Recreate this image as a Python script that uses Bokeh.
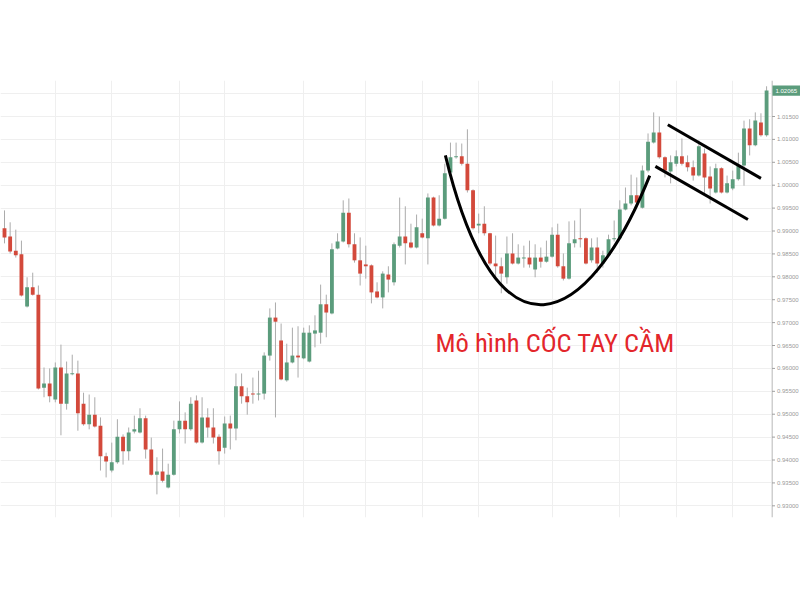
import numpy as np
from bokeh.plotting import figure
from bokeh.layouts import row
from bokeh.models import Range1d, FixedTicker, Label, ColumnDataSource
from bokeh.core.properties import value
from bokeh.embed import file_html
from bokeh.resources import INLINE

# ---- OHLC data (one candle per session) ----
opens = [0.9906, 0.9888, 0.9857, 0.9849, 0.9735, 0.9777, 0.9761, 0.9558, 0.9567, 0.9532,
         0.9602, 0.9523, 0.9587, 0.9589, 0.9523, 0.9478, 0.9499, 0.9475, 0.9408, 0.9377,
         0.9395, 0.9451, 0.9419, 0.9462, 0.9460, 0.9491, 0.9423, 0.9368, 0.9375, 0.9340,
         0.9368, 0.9467, 0.9486, 0.9467, 0.9530, 0.9438, 0.9493, 0.9471, 0.9451, 0.9427,
         0.9480, 0.9469, 0.9561, 0.9539, 0.9545, 0.9543, 0.9545, 0.9628, 0.9711, 0.9661,
         0.9574, 0.9613, 0.9628, 0.9622, 0.9615, 0.9676, 0.9678, 0.9740, 0.9720, 0.9862,
         0.9877, 0.9940, 0.9871, 0.9836, 0.9827, 0.9825, 0.9768, 0.9755, 0.9805, 0.9788,
         0.9868, 0.9888, 0.9875, 0.9864, 0.9895, 0.9884, 0.9973, 0.9912, 0.9927, 1.0028,
         1.0061, 1.0063, 1.0047, 0.9989, 0.9912, 0.9916, 0.9895, 0.9829, 0.9823, 0.9799,
         0.9851, 0.9829, 0.9840, 0.9842, 0.9816, 0.9842, 0.9833, 0.9844, 0.9892, 0.9823,
         0.9796, 0.9873, 0.9884, 0.9884, 0.9836, 0.9864, 0.9829, 0.9847, 0.9882, 0.9884,
         0.9947, 0.9960, 0.9978, 0.9951, 1.0032, 1.0093, 1.0115, 1.0061, 1.0030, 1.0047,
         1.0063, 1.0050, 1.0039, 1.0021, 1.0069, 1.0019, 0.9984, 1.0037, 0.9984, 0.9993,
         1.0013, 1.0043, 1.0124, 1.0087, 1.0137, 1.0109]
highs = [0.9945, 0.9919, 0.9903, 0.9879, 0.9799, 0.9809, 0.9781, 0.9602, 0.9600, 0.9613,
         0.9652, 0.9615, 0.9630, 0.9617, 0.9547, 0.9543, 0.9537, 0.9493, 0.9416, 0.9438,
         0.9489, 0.9456, 0.9471, 0.9497, 0.9513, 0.9497, 0.9449, 0.9406, 0.9425, 0.9392,
         0.9486, 0.9528, 0.9504, 0.9537, 0.9541, 0.9537, 0.9513, 0.9513, 0.9456, 0.9495,
         0.9497, 0.9589, 0.9589, 0.9558, 0.9580, 0.9595, 0.9635, 0.9731, 0.9744, 0.9698,
         0.9654, 0.9689, 0.9692, 0.9689, 0.9694, 0.9716, 0.9783, 0.9761, 0.9873, 0.9895,
         0.9967, 0.9971, 0.9895, 0.9886, 0.9868, 0.9827, 0.9788, 0.9812, 0.9823, 0.9875,
         0.9973, 0.9954, 0.9916, 0.9936, 0.9927, 0.9982, 0.9975, 0.9978, 1.0047, 1.0093,
         1.0093, 1.0091, 1.0122, 0.9991, 0.9938, 0.9954, 0.9896, 0.9890, 0.9842, 0.9888,
         0.9895, 0.9871, 0.9868, 0.9879, 0.9871, 0.9864, 0.9879, 0.9908, 0.9916, 0.9851,
         0.9921, 0.9923, 0.9949, 0.9886, 0.9884, 0.9886, 0.9857, 0.9892, 0.9923, 0.9967,
         0.9995, 1.0023, 1.0017, 1.0043, 1.0113, 1.0159, 1.0150, 1.0063, 1.0065, 1.0076,
         1.0102, 1.0065, 1.0054, 1.0098, 1.0080, 1.0041, 1.0047, 1.0039, 1.0021, 1.0032,
         1.0071, 1.0141, 1.0144, 1.0159, 1.0157, 1.0216]
lows = [0.9873, 0.9851, 0.9842, 0.9757, 0.9733, 0.9759, 0.9554, 0.9537, 0.9526, 0.9526,
        0.9454, 0.9510, 0.9585, 0.9464, 0.9475, 0.9467, 0.9471, 0.9377, 0.9362, 0.9373,
        0.9392, 0.9390, 0.9399, 0.9458, 0.9458, 0.9403, 0.9366, 0.9325, 0.9351, 0.9338,
        0.9366, 0.9458, 0.9436, 0.9464, 0.9436, 0.9436, 0.9449, 0.9436, 0.9390, 0.9414,
        0.9423, 0.9443, 0.9523, 0.9499, 0.9523, 0.9530, 0.9532, 0.9617, 0.9493, 0.9574,
        0.9571, 0.9611, 0.9580, 0.9620, 0.9613, 0.9646, 0.9654, 0.9668, 0.9718, 0.9860,
        0.9875, 0.9864, 0.9831, 0.9781, 0.9796, 0.9742, 0.9753, 0.9731, 0.9766, 0.9781,
        0.9864, 0.9827, 0.9862, 0.9862, 0.9884, 0.9827, 0.9910, 0.9910, 0.9925, 1.0026,
        1.0058, 1.0043, 0.9984, 0.9903, 0.9895, 0.9890, 0.9825, 0.9796, 0.9764, 0.9785,
        0.9827, 0.9827, 0.9820, 0.9820, 0.9799, 0.9820, 0.9831, 0.9842, 0.9820, 0.9792,
        0.9794, 0.9864, 0.9864, 0.9827, 0.9831, 0.9809, 0.9820, 0.9844, 0.9877, 0.9882,
        0.9945, 0.9956, 0.9951, 0.9949, 1.0028, 1.0091, 1.0058, 1.0017, 1.0004, 1.0041,
        1.0043, 1.0030, 1.0010, 1.0019, 0.9982, 0.9960, 0.9982, 0.9982, 0.9982, 0.9989,
        1.0010, 0.9999, 1.0065, 1.0085, 1.0106, 1.0106]
closes = [0.9886, 0.9855, 0.9847, 0.9759, 0.9777, 0.9761, 0.9556, 0.9567, 0.9539, 0.9602,
          0.9523, 0.9589, 0.9589, 0.9502, 0.9478, 0.9499, 0.9473, 0.9408, 0.9397, 0.9395,
          0.9451, 0.9419, 0.9460, 0.9467, 0.9491, 0.9423, 0.9368, 0.9375, 0.9355, 0.9368,
          0.9467, 0.9486, 0.9467, 0.9523, 0.9438, 0.9493, 0.9471, 0.9449, 0.9419, 0.9480,
          0.9469, 0.9561, 0.9539, 0.9526, 0.9543, 0.9545, 0.9628, 0.9711, 0.9702, 0.9576,
          0.9613, 0.9628, 0.9624, 0.9678, 0.9678, 0.9683, 0.9740, 0.9722, 0.9860, 0.9877,
          0.9940, 0.9871, 0.9836, 0.9807, 0.9823, 0.9766, 0.9755, 0.9807, 0.9794, 0.9871,
          0.9888, 0.9873, 0.9864, 0.9908, 0.9886, 0.9973, 0.9912, 0.9927, 1.0026, 1.0061,
          1.0063, 1.0047, 0.9989, 0.9906, 0.9916, 0.9895, 0.9829, 0.9823, 0.9807, 0.9851,
          0.9829, 0.9842, 0.9842, 0.9827, 0.9842, 0.9833, 0.9844, 0.9892, 0.9823, 0.9796,
          0.9873, 0.9882, 0.9882, 0.9829, 0.9864, 0.9829, 0.9847, 0.9882, 0.9884, 0.9947,
          0.9960, 0.9978, 0.9962, 1.0032, 1.0095, 1.0115, 1.0061, 1.0032, 1.0050, 1.0063,
          1.0047, 1.0039, 1.0021, 1.0085, 1.0017, 0.9993, 1.0037, 0.9984, 1.0004, 1.0013,
          1.0043, 1.0124, 1.0087, 1.0141, 1.0109, 1.02065]

price_ticks = [0.930, 0.935, 0.940, 0.945, 0.950, 0.955, 0.960, 0.965, 0.970, 0.975,
               0.980, 0.985, 0.990, 0.995, 1.000, 1.005, 1.010, 1.015, 1.020]
time_grid_idx = [9, 19, 31, 39, 53, 64, 74, 84, 97, 109, 119, 129]
last_price_text = "1.02065"
title_text = "Mô hình CỐC TAY CẦM"

# cup (bezier) and handle channel annotation anchors: (candle index, price)
cup_start = (78.1, 1.0065)
cup_end = (114.3, 1.0021)
cup_ctrl0 = (87.3, 0.9595)
cup_ctrl1 = (103.2, 0.9681)
handle_x0 = [117.5, 115.3]
handle_y0 = [1.0132, 1.0041]
handle_x1 = [134.0, 131.7]
handle_y1 = [1.0015, 0.9925]

UP = "#5b9c7c"
DOWN = "#d3493b"
SCALE_COL = "#a0a0a0"
LABEL_COL = "#999999"

o = np.array(opens); h = np.array(highs); l = np.array(lows); c = np.array(closes)
idx = np.arange(len(o))
top = np.maximum(o, c)
bot = np.minimum(o, c)
tiny = (top - bot) < 0.00022
top = np.where(tiny, bot + 0.00022, top)
cols = [UP if cc >= oo else DOWN for oo, cc in zip(o, c)]
src = ColumnDataSource(dict(x=idx, h=h, l=l, top=top, bot=bot, col=cols))

yr = Range1d(0.92745, 1.02286)

p = figure(frame_width=771, frame_height=437,
           x_range=Range1d(-0.7086, 135.87), y_range=yr,
           x_axis_location=None, y_axis_location=None,
           output_backend="svg", toolbar_location=None,
           min_border_left=0, min_border_top=80, min_border_bottom=20, min_border_right=0,
           outline_line_color=None, background_fill_color="white", border_fill_color="white")

p.xgrid.ticker = FixedTicker(ticks=time_grid_idx)
p.xgrid.grid_line_color = "#efefef"
p.ygrid.ticker = FixedTicker(ticks=price_ticks)
p.ygrid.grid_line_color = "#efefef"

p.segment(x0="x", y0="h", x1="x", y1="l", source=src, line_color="#ababab", line_width=1)
p.vbar(x="x", width=0.68, top="top", bottom="bot", source=src, fill_color="col", line_color=None)

p.bezier(x0=[cup_start[0]], y0=[cup_start[1]], x1=[cup_end[0]], y1=[cup_end[1]],
         cx0=[cup_ctrl0[0]], cy0=[cup_ctrl0[1]], cx1=[cup_ctrl1[0]], cy1=[cup_ctrl1[1]],
         line_color="black", line_width=3)
p.segment(x0=handle_x0, y0=handle_y0, x1=handle_x1, y1=handle_y1, line_color="black", line_width=3)

p.add_layout(Label(x=76.35, y=0.96566, text=title_text, text_font="Roboto Condensed",
                   text_font_size="26.5px", text_color="#e3262b", text_baseline="alphabetic"))

# ---- price scale panel (right side), sharing the price range ----
s = figure(frame_width=29, frame_height=437, x_range=Range1d(0, 29), y_range=yr,
           x_axis_location=None, y_axis_location=None,
           output_backend="svg", toolbar_location=None,
           min_border_left=0, min_border_top=80, min_border_bottom=20, min_border_right=0,
           outline_line_color=None, background_fill_color="white", border_fill_color="white")
s.grid.visible = False

axis_ticks = price_ticks[:-1]
tick_src = ColumnDataSource(dict(y=axis_ticks, lab=["%.5f" % t for t in axis_ticks]))
s.segment(x0=[0.5], y0=[yr.start], x1=[0.5], y1=[yr.end], line_color=SCALE_COL, line_width=1)
s.segment(x0=0.5, y0="y", x1=3.5, y1="y", source=tick_src, line_color=SCALE_COL, line_width=1)
s.text(x=5.5, y="y", text="lab", source=tick_src, text_font_size="6px", text_color=LABEL_COL,
       text_baseline="middle", text_align="left", text_font=value("Liberation Sans"))

s.quad(left=[1], right=[29], top=[closes[-1] + 0.0011], bottom=[closes[-1] - 0.0011],
       fill_color=UP, line_color=None)
s.text(x=[4], y=[closes[-1]], text=[last_price_text], text_font_size="6px", text_color="white",
       text_baseline="middle", text_align="left", text_font=value("Liberation Sans"))

layout = row(p, s, spacing=0)
open("out.html", "w").write(file_html(layout, INLINE))
